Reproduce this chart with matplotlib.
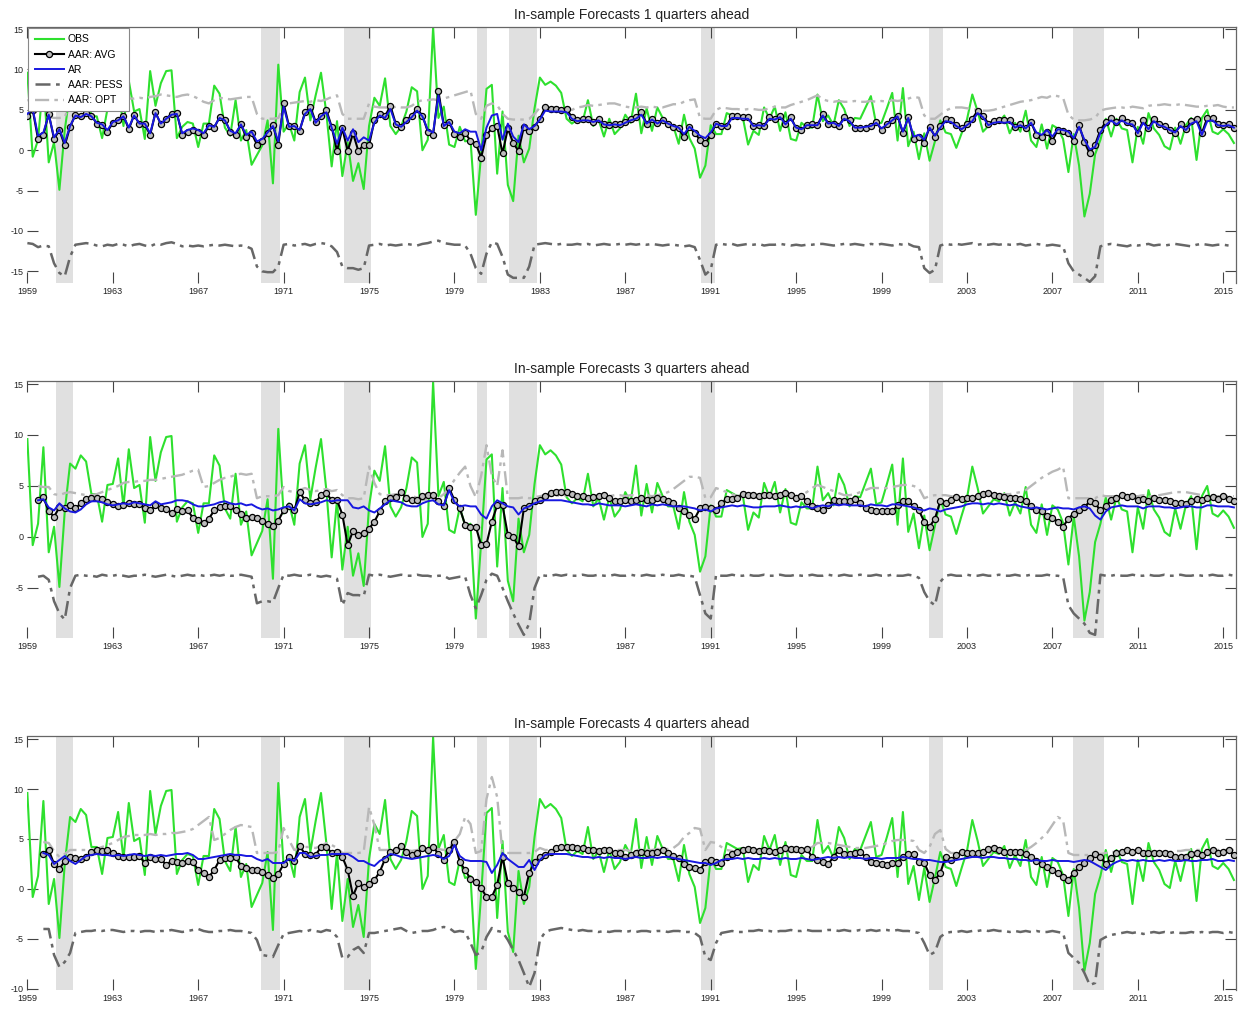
import numpy as np
import matplotlib
matplotlib.use("Agg")
import matplotlib.pyplot as plt

nan = np.nan

# quarterly points, first one at 1959.00, one row per year (4 quarters)
start_year = 1959
tick_years = [1959, 1963, 1967, 1971, 1975, 1979, 1983, 1987, 1991, 1995,
              1999, 2003, 2007, 2011, 2015]

# NBER recessions (decimal years) used for the grey bands
rec_start = [1960.33, 1969.94, 1973.82, 1980.04, 1981.57, 1990.55, 2001.24, 2007.96]
rec_end = [1961.16, 1970.84, 1975.10, 1980.52, 1982.86, 1991.19, 2001.87, 2009.42]

obs = [
    9.6, -0.8, 1.3, 8.8,   -1.5, 1.0, -4.9, 2.5,   7.2, 6.7, 8.0, 7.4,   4.2, 4.2, 1.5, 5.1,
    5.2, 7.7, 3.0, 8.6,    4.8, 5.1, 1.4, 9.8,     5.5, 8.3, 9.8, 9.9,   1.5, 2.9, 3.5, 3.3,
    0.4, 3.3, 3.3, 8.0,    7.0, 2.8, 1.8, 6.2,     1.2, 2.5, -1.8, -0.6, 0.6, 3.7, -4.1, 10.6,
    2.3, 3.3, 1.2, 7.2,    9.0, 3.7, 6.8, 9.6,     4.6, -2.0, 3.6, -3.2, 1.0, -3.8, -1.6, -4.8,
    3.0, 6.5, 5.5, 8.9,    3.0, 2.0, 2.9, 4.8,     7.8, 7.3, 0.0, 1.3,   15.2, 4.0, 5.4, 0.7,
    0.4, 2.9, 1.1, 1.3,    -8.0, -0.5, 7.6, 8.1,   -2.9, 4.8, -4.3, -6.3, 1.8, -1.5, 0.2, 5.2,
    9.0, 8.1, 8.5, 8.0,    7.1, 3.9, 3.3, 3.8,     3.5, 6.2, 3.0, 3.8,   1.7, 3.9, 2.0, 2.7,
    4.4, 3.4, 7.0, 2.1,    5.2, 2.4, 5.3, 4.0,     3.0, 3.0, 0.8, 4.4,   1.5, 0.2, -3.4, -1.9,
    3.1, 2.0, 2.0, 4.6,    4.3, 4.0, 4.1, 0.7,     2.4, 1.9, 5.3, 3.9,   5.4, 2.4, 4.7, 1.4,
    1.2, 3.4, 2.8, 2.8,    6.9, 3.6, 4.3, 3.1,     6.2, 5.1, 3.0, 4.0,   3.9, 5.3, 6.7, 3.2,
    3.4, 5.2, 7.1, 1.2,    7.7, 0.5, 2.3, -1.1,    2.1, -1.3, 1.1, 3.7,  2.2, 2.0, 0.3, 2.1,
    3.8, 6.9, 4.8, 2.3,    3.0, 3.7, 3.5, 4.3,     2.1, 3.4, 2.3, 4.9,   1.2, 0.4, 3.2, 0.2,
    3.1, 2.7, 1.4, -2.7,   2.0, -1.9, -8.2, -5.4,  -0.5, 1.3, 3.9, 1.7,  3.9, 2.7, 2.5, -1.5,
    2.9, 0.8, 4.6, 2.7,    1.9, 0.5, 0.1, 2.8,     0.8, 3.1, 4.0, -1.2,  4.0, 5.0, 2.3, 2.0,
    2.6, 2.0, 0.9,
]

# ---- 1 quarter ahead ----
avg_h1 = [
    4.3, 5.0, 1.4, 1.9,   4.5, 1.4, 2.5, 0.6,   2.9, 4.4, 4.2, 4.6,   4.3, 3.3, 3.1, 2.3,
    3.4, 3.7, 4.3, 2.6,   4.4, 3.2, 3.2, 1.9,   4.7, 3.2, 3.9, 4.5,   4.6, 1.9, 2.3, 2.5,
    2.3, 1.9, 3.0, 2.8,   4.1, 3.8, 2.3, 1.9,   3.2, 1.6, 2.1, 0.7,   1.1, 2.1, 3.1, 0.7,
    5.8, 3.0, 3.0, 2.4,   4.7, 5.4, 3.5, 4.3,   5.0, 2.9, -0.1, 2.7,  -0.1, 2.1, -0.1, 0.7,
    0.6, 3.7, 4.5, 4.2,   5.5, 3.3, 2.9, 3.7,   4.3, 5.1, 4.3, 2.3,   1.9, 7.3, 3.1, 3.5,
    2.0, 1.7, 2.1, 1.2,   0.8, -0.9, 1.9, 2.7,  3.0, -0.4, 2.7, 0.9,  -0.1, 2.9, 2.4, 2.9,
    3.9, 5.3, 5.1, 5.1,   5.0, 5.1, 4.1, 3.7,   3.9, 3.9, 3.5, 3.9,   3.2, 3.1, 3.2, 3.2,
    3.5, 3.9, 4.1, 4.7,   3.3, 3.9, 3.4, 3.8,   3.3, 2.9, 2.7, 1.6,   2.9, 2.1, 1.3, 0.9,
    1.9, 3.3, 3.0, 3.0,   4.3, 4.3, 4.1, 4.1,   3.0, 3.1, 3.0, 4.1,   3.9, 4.3, 3.3, 4.1,
    2.7, 2.5, 3.1, 3.2,   3.1, 4.5, 3.3, 3.3,   3.0, 4.1, 3.7, 2.7,   2.7, 2.8, 3.0, 3.5,
    2.5, 3.2, 3.8, 4.3,   2.1, 4.1, 1.4, 1.6,   0.9, 2.9, 1.7, 3.0,   3.9, 3.7, 3.1, 2.7,
    3.3, 3.9, 4.9, 4.3,   3.3, 3.6, 3.8, 3.7,   3.8, 2.9, 3.2, 2.7,   3.5, 1.9, 1.6, 2.3,
    1.2, 2.5, 2.4, 2.1,   1.2, 3.1, 1.0, -0.4,  0.7, 2.5, 3.5, 4.0,   3.5, 4.0, 3.5, 3.4,
    2.1, 3.7, 2.7, 3.9,   3.3, 3.0, 2.5, 2.1,   3.2, 2.6, 3.6, 3.9,   2.1, 4.0, 4.0, 3.2,
    3.1, 3.2, 2.7,
]
ar_h1 = [
    4.5, 5.1, 1.8, 2.2,   4.4, 1.6, 2.6, 0.9,   3.0, 4.3, 4.1, 4.5,   4.2, 3.4, 3.2, 2.5,
    3.5, 3.7, 4.2, 2.8,   4.3, 3.3, 3.3, 2.1,   4.6, 3.3, 3.9, 4.4,   4.5, 2.1, 2.5, 2.7,
    2.5, 2.1, 3.1, 2.9,   4.0, 3.7, 2.4, 2.1,   3.2, 1.9, 2.3, 1.1,   1.4, 2.2, 3.0, 1.1,
    5.4, 2.9, 3.0, 2.5,   4.5, 5.1, 3.4, 4.2,   4.7, 2.8, 0.8, 2.8,   1.2, 2.6, 1.0, 1.6,
    1.2, 3.4, 4.3, 4.0,   5.1, 3.2, 2.9, 3.5,   4.1, 4.9, 4.2, 2.5,   2.2, 6.8, 3.0, 3.5,
    2.3, 2.1, 2.6, 2.3,   2.3, 0.0, 2.8, 4.3,   4.5, 1.3, 3.3, 1.7,   1.0, 3.2, 2.6, 3.0,
    3.8, 4.9, 4.8, 4.8,   4.8, 4.7, 3.9, 3.6,   3.7, 3.7, 3.5, 3.7,   3.2, 3.1, 3.2, 3.1,
    3.4, 3.7, 3.9, 4.4,   3.3, 3.8, 3.3, 3.7,   3.3, 3.0, 2.8, 2.0,   2.9, 2.4, 1.8, 1.5,
    2.2, 3.3, 3.0, 3.0,   4.0, 4.0, 3.9, 3.9,   3.0, 3.1, 3.0, 3.9,   3.8, 4.1, 3.2, 3.9,
    2.8, 2.6, 3.1, 3.1,   3.1, 4.3, 3.3, 3.4,   3.0, 3.9, 3.6, 2.8,   2.8, 2.9, 3.0, 3.4,
    2.7, 3.2, 3.7, 4.2,   2.3, 4.0, 1.7, 1.9,   1.3, 2.8, 1.8, 2.8,   3.6, 3.5, 3.0, 2.6,
    3.1, 3.6, 4.6, 4.1,   3.1, 3.4, 3.5, 3.4,   3.5, 2.8, 3.1, 2.7,   3.4, 2.2, 1.9, 2.5,
    1.7, 2.6, 2.5, 2.3,   1.5, 2.9, 1.3, 0.1,   0.4, 2.2, 3.1, 3.7,   3.2, 3.7, 3.3, 3.2,
    2.1, 3.4, 2.6, 3.6,   3.1, 2.9, 2.5, 2.2,   3.0, 2.5, 3.3, 3.6,   1.9, 3.6, 3.7, 3.1,
    3.0, 3.1, 2.8,
]
pess_h1 = [
    -11.5, -11.6, -12.0, -11.8,  -11.9, -14.0, -15.2, -15.6,  -13.2, -11.7, -11.6, -11.5,
    -11.6, -11.8, -11.9, -11.7,  -11.8, -11.6, -11.7, -11.9,  -11.7, -11.6, -11.8, -11.9,
    -11.6, -11.7, -11.5, -11.4,  -11.6, -11.9, -11.8, -11.9,  -11.8, -11.9, -11.8, -11.7,
    -11.8, -11.7, -11.8, -11.9,  -11.8, -11.9, -12.2, -14.4,  -15.0, -15.1, -15.1, -14.4,
    -11.7, -11.6, -11.8, -11.7,  -11.6, -11.8, -11.6, -11.5,  -11.6, -11.9, -12.6, -14.4,
    -14.6, -14.6, -14.8, -14.6,  -11.8, -11.7, -11.6, -11.8,  -11.7, -11.8, -11.7, -11.6,
    -11.7, -11.8, -11.6, -11.5,  -11.3, -11.2, -11.5, -11.6,  -11.7, -11.7, -11.8, -12.8,
    -14.6, -15.3, -12.8, -11.4,  -11.6, -13.2, -15.4, -15.8,  -15.8, -15.8, -14.4, -11.7,
    -11.6, -11.5, -11.6, -11.7,  -11.6, -11.7, -11.7, -11.6,  -11.7, -11.6, -11.8, -11.7,
    -11.6, -11.7, -11.7, -11.6,  -11.7, -11.6, -11.7, -11.6,  -11.7, -11.6, -11.7, -11.8,
    -11.7, -11.7, -11.8, -11.9,  -11.8, -12.0, -13.6, -15.4,  -14.8, -11.7, -11.6, -11.7,
    -11.6, -11.8, -11.7, -11.6,  -11.7, -11.6, -11.8, -11.7,  -11.7, -11.6, -11.7, -11.8,
    -11.7, -11.8, -11.7, -11.7,  -11.6, -11.6, -11.7, -11.8,  -11.7, -11.6, -11.7, -11.6,
    -11.7, -11.8, -11.6, -11.7,  -11.6, -11.7, -11.8, -11.6,  -11.7, -11.6, -11.9, -12.0,
    -14.6, -15.2, -14.8, -11.8,  -11.6, -11.7, -11.6, -11.7,  -11.6, -11.5, -11.7, -11.6,
    -11.7, -11.6, -11.7, -11.6,  -11.7, -11.7, -11.6, -11.8,  -11.7, -11.6, -11.7, -11.8,
    -11.7, -11.8, -11.9, -14.0,  -15.0, -15.4, -15.8, -16.3,  -15.6, -11.9, -11.7, -11.6,
    -11.7, -11.8, -11.9, -11.7,  -11.8, -11.7, -11.6, -11.8,  -11.7, -11.8, -11.7, -11.6,
    -11.7, -11.8, -11.9, -11.7,  -11.6, -11.7, -11.8, -11.7,  -11.7, -11.8, -11.7,
]
opt_h1 = [
    6.2, 6.2, 6.1, 5.2,   4.1, 4.0, 4.0, 4.1,   5.8, 6.2, 6.3, 6.3,   6.3, 6.2, 6.3, 6.4,
    6.3, 6.4, 6.3, 6.4,   6.4, 6.5, 6.4, 6.6,   6.7, 6.9, 6.8, 6.7,   6.6, 6.8, 6.9, 6.7,
    6.4, 6.0, 5.8, 6.2,   6.5, 6.4, 6.3, 6.4,   6.5, 6.6, 6.6, 4.5,   3.9, 3.9, 3.9, 4.0,
    5.3, 5.8, 5.9, 6.0,   6.1, 6.0, 6.2, 6.1,   6.3, 6.6, 6.8, 4.5,   3.9, 3.9, 3.9, 3.9,
    5.8, 5.4, 5.3, 5.3,   5.2, 5.4, 5.3, 5.3,   5.5, 6.0, 6.2, 6.2,   6.3, 6.2, 6.4, 6.6,
    6.8, 7.0, 7.2, 7.4,   4.5, 3.9, 5.5, 5.8,   5.6, 4.5, 3.9, 3.8,   3.8, 3.8, 3.9, 4.5,
    5.3, 5.4, 5.3, 5.2,   5.1, 5.0, 5.0, 5.3,   5.4, 5.6, 5.5, 5.6,   5.7, 5.8, 5.8, 5.6,
    5.4, 5.3, 5.3, 5.4,   5.3, 5.4, 5.3, 5.3,   5.5, 5.7, 5.7, 6.0,   6.2, 6.3, 4.0, 3.9,
    3.9, 5.0, 5.3, 5.2,   5.1, 5.1, 5.0, 5.1,   5.1, 5.0, 5.0, 5.2,   5.4, 5.3, 5.3, 5.6,
    5.8, 6.0, 6.2, 6.5,   6.8, 6.3, 6.1, 6.0,   6.1, 6.0, 6.0, 6.1,   6.0, 6.0, 6.1, 6.0,
    6.1, 6.0, 6.2, 6.1,   6.2, 6.4, 6.6, 6.5,   4.3, 3.9, 3.9, 4.4,   4.9, 5.2, 5.3, 5.3,
    5.2, 5.1, 5.0, 4.9,   4.9, 5.0, 5.2, 5.4,   5.6, 5.8, 6.0, 6.1,   6.2, 6.4, 6.6, 6.5,
    6.8, 6.7, 6.5, 4.4,   3.8, 3.7, 3.7, 3.8,   4.0, 4.9, 5.1, 5.2,   5.3, 5.3, 5.2, 5.4,
    5.3, 5.2, 5.5, 5.6,   5.6, 5.7, 5.6, 5.6,   5.7, 5.6, 5.5, 5.4,   5.4, 5.5, 5.5, 5.6,
    5.4, 5.3, 5.3,
]

# ---- 3 quarters ahead ----
avg_h3 = [
    nan, nan, 3.6, 3.9,   2.5, 2.0, 2.9, 2.8,   3.1, 2.8, 3.3, 3.7,   3.8, 3.8, 3.7, 3.4,
    3.2, 3.0, 3.1, 3.3,   3.2, 3.2, 2.8, 2.6,   3.1, 2.8, 2.7, 2.4,   2.7, 2.5, 2.6, 1.9,
    1.7, 1.4, 1.8, 2.6,   2.9, 3.0, 3.0, 2.6,   2.3, 1.9, 2.0, 1.9,   1.6, 1.3, 1.1, 1.6,
    2.6, 3.0, 2.6, 4.4,   3.6, 3.3, 3.4, 4.1,   4.3, 3.6, 3.6, 2.2,   -0.8, 0.6, 0.2, 0.4,
    0.8, 1.5, 2.5, 3.5,   3.8, 3.9, 4.4, 3.8,   3.6, 3.6, 4.0, 4.1,   4.1, 3.5, 3.0, 4.8,
    3.6, 2.8, 1.2, 1.0,   1.0, -0.8, -0.7, 1.5, 3.1, 3.1, 0.2, 0.0,   -0.9, 2.8, 3.0, 3.5,
    3.6, 4.0, 4.3, 4.4,   4.4, 4.4, 4.2, 4.0,   4.0, 3.8, 3.9, 4.0,   4.1, 3.8, 3.5, 3.5,
    3.6, 3.5, 3.6, 3.8,   3.6, 3.6, 3.8, 3.7,   3.5, 3.3, 2.8, 2.5,   2.2, 1.8, 2.8, 2.9,
    2.8, 2.6, 3.3, 3.7,   3.7, 3.8, 4.2, 4.1,   4.1, 4.0, 4.1, 4.1,   4.0, 4.1, 4.3, 4.1,
    3.8, 4.0, 3.5, 3.0,   2.8, 2.6, 3.1, 3.6,   3.5, 3.5, 3.5, 3.7,   3.3, 2.8, 2.6, 2.5,
    2.5, 2.5, 2.5, 3.1,   3.5, 3.5, 3.0, 2.6,   1.5, 1.0, 1.8, 3.5,   3.3, 3.6, 3.9, 3.7,
    3.8, 3.8, 4.0, 4.2,   4.3, 4.1, 4.0, 3.9,   3.8, 3.8, 3.7, 3.5,   3.0, 2.6, 2.5, 2.1,
    1.9, 1.5, 1.0, 1.8,   2.3, 2.6, 2.9, 3.5,   3.3, 2.6, 3.0, 3.6,   3.8, 4.1, 3.9, 4.0,
    3.6, 3.7, 3.5, 3.8,   3.6, 3.6, 3.5, 3.3,   3.3, 3.2, 3.5, 3.7,   3.6, 3.8, 3.9, 3.7,
    4.0, 3.7, 3.5,
]
ar_h3 = [
    nan, nan, 3.6, 3.7,   2.9, 2.6, 3.3, 2.8,   2.5, 2.4, 2.7, 3.2,   3.5, 3.5, 3.4, 3.2,
    3.1, 3.2, 3.3, 3.2,   3.4, 3.3, 3.2, 3.1,   3.5, 3.2, 3.3, 3.4,   3.6, 3.6, 3.5, 3.2,
    3.0, 3.0, 3.1, 3.2,   3.4, 3.5, 3.3, 3.2,   3.3, 3.1, 3.2, 2.9,   2.7, 2.8, 2.6, 2.7,
    2.9, 3.0, 2.6, 3.7,   3.3, 3.2, 3.3, 3.4,   3.6, 3.5, 3.6, 3.6,   3.6, 2.9, 2.8, 3.0,
    2.6, 2.4, 2.8, 3.2,   3.6, 3.5, 3.4, 3.1,   3.0, 3.0, 3.3, 3.5,   3.6, 3.2, 3.1, 4.6,
    3.4, 3.0, 3.1, 3.0,   3.0, 2.2, 1.8, 3.0,   3.6, 3.3, 3.0, 2.9,   2.2, 2.8, 3.0, 3.3,
    3.5, 3.6, 3.6, 3.6,   3.6, 3.5, 3.4, 3.3,   3.2, 3.2, 3.1, 3.3,   3.2, 3.1, 3.1, 3.1,
    3.0, 3.1, 3.2, 3.1,   3.0, 3.2, 3.1, 3.2,   3.1, 3.0, 3.0, 3.0,   2.9, 2.8, 2.6, 2.7,
    2.5, 2.8, 2.9, 3.0,   3.1, 3.0, 3.1, 3.0,   2.9, 2.9, 3.0, 3.0,   3.0, 3.1, 3.0, 2.9,
    3.0, 2.9, 3.0, 2.8,   3.0, 3.1, 3.0, 3.2,   3.1, 3.2, 3.1, 3.1,   3.1, 3.0, 3.2, 3.1,
    3.1, 3.0, 3.2, 3.2,   3.1, 3.0, 2.9, 2.7,   2.6, 2.8, 2.7, 2.5,   2.7, 2.8, 2.9, 3.0,
    3.2, 3.3, 3.3, 3.2,   3.3, 3.2, 3.3, 3.2,   3.1, 3.2, 3.0, 2.9,   2.8, 2.9, 2.8, 2.7,
    2.8, 2.9, 2.8, 2.8,   2.7, 2.9, 3.0, 2.8,   2.1, 1.7, 2.5, 2.9,   3.0, 3.1, 3.0, 3.0,
    3.0, 2.8, 3.0, 3.0,   3.0, 2.9, 2.9, 2.8,   2.9, 3.0, 3.0, 2.9,   2.9, 3.1, 3.1, 3.0,
    3.0, 3.0, 2.9,
]
pess_h3 = [
    nan, nan, -3.9, -3.8,  -4.2, -6.3, -7.5, -8.1,  -5.0, -3.8, -3.7, -3.8,  -3.8, -3.9, -3.7, -3.8,
    -3.8, -3.7, -3.8, -3.9,  -3.8, -3.8, -3.7, -3.8,  -3.9, -3.8, -3.7, -3.8,  -3.9, -3.8, -3.7, -3.8,
    -3.7, -3.8, -3.8, -3.7,  -3.8, -3.7, -3.8, -3.8,  -3.7, -3.8, -3.9, -6.5,  -6.3, -6.3, -6.4, -5.0,
    -3.7, -3.8, -3.7, -3.8,  -3.8, -3.7, -3.8, -3.9,  -3.8, -3.9, -4.1, -6.7,  -5.5, -5.7, -5.7, -5.8,
    -3.7, -3.8, -3.7, -3.8,  -3.9, -3.8, -3.7, -3.8,  -3.8, -3.7, -3.8, -3.8,  -3.9, -3.8, -3.8, -4.1,
    -4.0, -3.9, -3.9, -5.7,  -7.0, -5.7, -4.2, -3.6,  -3.8, -5.0, -6.3, -7.5,  -8.6, -9.6, -8.5, -5.0,
    -3.7, -3.8, -3.8, -3.7,  -3.8, -3.7, -3.8, -3.8,  -3.7, -3.8, -3.8, -3.7,  -3.8, -3.8, -3.7, -3.8,
    -3.8, -3.7, -3.8, -3.8,  -3.7, -3.8, -3.8, -3.7,  -3.8, -3.8, -3.7, -3.8,  -3.8, -3.9, -5.7, -7.5,
    -8.0, -3.7, -3.8, -3.8,  -3.7, -3.8, -3.8, -3.7,  -3.8, -3.8, -3.7, -3.8,  -3.8, -3.7, -3.8, -3.8,
    -3.7, -3.8, -3.8, -3.7,  -3.8, -3.8, -3.7, -3.8,  -3.8, -3.7, -3.8, -3.8,  -3.7, -3.8, -3.8, -3.7,
    -3.8, -3.8, -3.7, -3.8,  -3.8, -3.7, -3.8, -4.0,  -5.4, -6.3, -6.7, -4.4,  -3.8, -3.7, -3.8, -3.8,
    -3.7, -3.8, -3.8, -3.7,  -3.8, -3.8, -3.7, -3.8,  -3.8, -3.7, -3.8, -3.8,  -3.7, -3.8, -3.8, -3.7,
    -3.8, -3.8, -3.9, -6.7,  -7.5, -8.0, -8.5, -9.4,  -9.6, -3.7, -3.8, -3.8,  -3.7, -3.8, -3.8, -3.7,
    -3.8, -3.8, -3.7, -3.8,  -3.8, -3.7, -3.8, -3.8,  -3.7, -3.8, -3.8, -3.7,  -3.8, -3.8, -3.7, -3.8,
    -3.8, -3.7, -3.8,
]
opt_h3 = [
    nan, nan, 5.0, 4.9,   4.9, 4.2, 4.1, 4.3,   4.4, 4.3, 4.2, 4.1,   4.1, 4.2, 4.4, 4.6,
    4.8, 5.0, 5.3, 5.4,   5.4, 5.5, 5.5, 5.6,   5.6, 5.7, 5.8, 5.9,   6.0, 6.1, 6.3, 6.5,
    6.6, 4.9, 5.0, 5.3,   5.6, 5.8, 5.9, 6.1,   6.2, 6.1, 6.2, 3.8,   4.0, 4.0, 4.0, 4.1,
    4.9, 4.5, 4.4, 4.6,   4.8, 4.6, 4.5, 4.6,   4.7, 4.5, 4.6, 4.1,   3.8, 3.8, 3.7, 3.8,
    6.9, 5.3, 4.2, 4.1,   4.1, 4.2, 4.1, 4.0,   4.1, 3.8, 3.6, 3.7,   3.6, 3.8, 4.2, 4.8,
    5.6, 6.3, 6.9, 5.0,   3.9, 6.0, 9.0, 6.0,   5.0, 8.5, 3.8, 3.8,   3.8, 3.9, 3.8, 3.9,
    4.0, 4.1, 4.0, 4.1,   4.0, 4.1, 4.0, 4.1,   4.1, 4.0, 4.1, 4.0,   4.1, 4.0, 4.1, 4.1,
    4.0, 4.1, 4.1, 4.0,   4.1, 4.0, 4.1, 4.2,   4.4, 4.7, 5.1, 5.5,   5.9, 5.9, 5.8, 3.8,
    3.9, 4.8, 4.6, 4.4,   4.2, 4.0, 4.1, 4.0,   4.0, 4.1, 4.0, 4.0,   4.1, 4.0, 4.0, 4.1,
    4.0, 4.1, 4.4, 4.8,   5.1, 4.9, 4.7, 4.5,   4.3, 4.1, 4.1, 4.2,   4.4, 4.6, 4.8, 4.8,
    4.8, 4.8, 4.9, 5.0,   5.1, 5.1, 5.0, 4.8,   3.8, 4.0, 4.1, 4.1,   4.1, 4.0, 3.9, 3.9,
    3.9, 3.8, 3.9, 4.0,   4.0, 4.1, 4.1, 4.2,   4.2, 4.3, 4.4, 4.6,   5.0, 5.4, 5.8, 6.1,
    6.4, 6.6, 6.9, 3.8,   3.8, 3.8, 3.8, 3.8,   3.8, 4.1, 4.0, 4.0,   4.0, 4.0, 4.1, 4.0,
    4.0, 4.1, 4.0, 4.0,   4.1, 4.2, 4.3, 4.4,   4.4, 4.4, 4.3, 4.2,   4.1, 4.0, 4.0, 4.0,
    4.0, 4.0, 4.0,
]

# ---- 4 quarters ahead ----
avg_h4 = [
    nan, nan, nan, 3.5,   3.9, 2.5, 2.0, 2.8,   3.2, 3.1, 3.0, 3.2,   3.7, 3.9, 3.8, 3.9,
    3.6, 3.3, 3.2, 3.2,   3.2, 3.3, 2.6, 3.2,   3.0, 3.0, 2.4, 2.8,   2.7, 2.6, 2.8, 2.7,
    1.9, 1.6, 1.2, 1.9,   2.9, 3.1, 3.1, 3.2,   2.3, 2.1, 1.9, 1.9,   1.7, 1.4, 1.1, 1.5,
    2.5, 3.2, 2.8, 4.3,   3.5, 3.4, 3.4, 4.2,   4.2, 3.6, 3.7, 3.2,   1.9, -0.7, 0.6, 0.2,
    0.5, 0.9, 1.7, 3.0,   3.7, 3.9, 4.3, 3.7,   3.4, 3.6, 4.1, 3.9,   4.2, 3.5, 2.9, 3.9,
    4.7, 2.7, 1.9, 1.0,   0.7, 0.1, -0.8, -0.8, 0.4, 3.2, 0.6, 0.1,   -0.3, -0.8, 1.6, 2.7,
    3.2, 3.4, 3.7, 4.1,   4.2, 4.2, 4.2, 4.1,   4.1, 3.9, 3.9, 3.8,   3.9, 3.9, 3.6, 3.6,
    3.2, 3.4, 3.6, 3.7,   3.6, 3.6, 3.7, 3.9,   3.6, 3.3, 3.1, 2.5,   2.2, 2.1, 1.9, 2.7,
    2.9, 2.7, 2.6, 3.2,   3.5, 3.7, 3.9, 4.0,   3.9, 3.8, 3.9, 3.8,   3.7, 3.9, 4.1, 4.0,
    4.0, 3.9, 4.0, 3.2,   2.9, 2.7, 2.5, 3.2,   3.9, 3.5, 3.5, 3.6,   3.7, 3.2, 2.7, 2.6,
    2.5, 2.4, 2.6, 2.6,   3.2, 3.5, 3.5, 2.7,   2.6, 1.4, 0.9, 1.6,   3.2, 2.9, 3.4, 3.7,
    3.6, 3.6, 3.6, 3.7,   4.0, 4.1, 3.9, 3.7,   3.7, 3.7, 3.7, 3.5,   3.2, 2.8, 2.5, 2.2,
    1.9, 1.6, 1.2, 0.9,   1.6, 2.2, 2.6, 3.1,   3.5, 3.2, 2.5, 3.1,   3.6, 3.7, 3.9, 3.7,
    3.9, 3.6, 3.6, 3.6,   3.6, 3.6, 3.5, 3.2,   3.2, 3.2, 3.5, 3.6,   3.4, 3.7, 3.9, 3.6,
    3.7, 3.9, 3.4,
]
ar_h4 = [
    nan, nan, nan, 3.6,   3.4, 2.5, 2.9, 3.3,   2.8, 2.5, 2.9, 3.3,   3.4, 3.5, 3.4, 3.4,
    3.3, 3.4, 3.3, 3.4,   3.5, 3.4, 3.3, 3.4,   3.3, 3.4, 3.3, 3.4,   3.5, 3.5, 3.6, 3.4,
    3.0, 3.0, 3.1, 3.2,   3.3, 3.4, 3.5, 3.4,   3.4, 3.3, 3.3, 3.0,   2.8, 3.0, 2.6, 2.6,
    2.6, 3.0, 2.8, 3.6,   3.6, 3.2, 3.3, 3.4,   3.4, 3.5, 3.5, 3.5,   3.5, 3.2, 2.8, 2.8,
    2.5, 2.3, 2.8, 3.1,   3.5, 3.4, 3.2, 3.1,   3.0, 3.1, 3.2, 3.3,   3.4, 3.3, 3.0, 3.3,
    4.4, 3.3, 2.9, 2.8,   2.8, 2.8, 2.7, 1.6,   2.4, 3.6, 3.0, 2.6,   2.2, 2.2, 2.9, 1.9,
    2.9, 3.4, 3.5, 3.5,   3.5, 3.5, 3.4, 3.3,   3.2, 3.2, 3.1, 3.2,   3.1, 3.2, 3.1, 3.1,
    3.0, 3.1, 3.2, 3.1,   3.1, 3.2, 3.1, 3.2,   3.2, 3.1, 3.0, 2.9,   2.8, 2.7, 2.6, 2.6,
    2.4, 2.6, 2.9, 3.0,   3.0, 3.1, 3.0, 3.1,   3.0, 3.0, 3.1, 3.0,   3.1, 3.0, 3.1, 3.0,
    3.0, 3.1, 3.0, 2.9,   3.0, 3.1, 3.2, 3.1,   3.2, 3.1, 3.2, 3.1,   3.1, 3.0, 3.1, 3.1,
    3.0, 3.1, 3.1, 3.1,   3.2, 3.1, 3.0, 3.0,   2.9, 2.9, 2.8, 2.7,   2.7, 2.8, 2.9, 3.0,
    3.1, 3.2, 3.2, 3.1,   3.2, 3.2, 3.1, 3.1,   3.0, 3.0, 2.9, 2.9,   2.8, 2.9, 2.8, 2.8,
    2.9, 2.8, 2.8, 2.8,   2.7, 2.8, 2.9, 2.8,   2.5, 2.2, 1.9, 2.4,   2.7, 2.9, 2.8, 2.9,
    2.8, 2.9, 2.8, 2.8,   2.9, 2.8, 2.9, 2.8,   2.8, 2.9, 2.8, 2.8,   2.9, 2.9, 3.0, 2.8,
    2.8, 2.9, 2.8,
]
pess_h4 = [
    nan, nan, nan, -4.0,  -4.0, -6.6, -7.8, -7.3,  -6.4, -4.4, -4.3, -4.2,  -4.2, -4.1, -4.2, -4.1,
    -4.1, -4.2, -4.3, -4.2,  -4.2, -4.3, -4.2, -4.2,  -4.3, -4.2, -4.2, -4.1,  -4.2, -4.3, -4.2, -4.1,
    -4.0, -4.2, -4.3, -4.3,  -4.2, -4.2, -4.1, -4.2,  -4.2, -4.3, -4.4, -5.1,  -6.6, -6.7, -6.8, -5.6,
    -4.5, -4.4, -4.3, -4.2,  -4.3, -4.1, -4.2, -4.3,  -4.1, -4.2, -4.8, -6.9,  -6.8, -6.1, -5.8, -6.4,
    -4.4, -4.4, -4.3, -4.2,  -4.1, -4.0, -3.9, -4.2,  -4.4, -4.3, -4.2, -4.2,  -4.1, -3.9, -3.8, -3.9,
    -4.3, -4.2, -4.3, -5.4,  -6.6, -6.3, -4.8, -3.9,  -4.2, -4.3, -5.1, -6.1,  -7.1, -8.4, -9.8, -8.4,
    -5.1, -4.3, -4.1, -4.0,  -3.9, -4.0, -4.1, -4.2,  -4.1, -4.2, -4.2, -4.3,  -4.2, -4.3, -4.2, -4.2,
    -4.3, -4.2, -4.3, -4.2,  -4.2, -4.3, -4.2, -4.2,  -4.3, -4.2, -4.2, -4.3,  -4.3, -4.4, -4.8, -6.8,
    -7.1, -5.4, -4.4, -4.3,  -4.2, -4.3, -4.3, -4.2,  -4.2, -4.1, -4.2, -4.2,  -4.3, -4.2, -4.2, -4.1,
    -4.2, -4.2, -4.1, -4.2,  -4.2, -4.2, -4.1, -4.1,  -4.2, -4.1, -4.2, -4.2,  -4.1, -4.2, -4.1, -4.2,
    -4.1, -4.1, -4.2, -4.1,  -4.2, -4.2, -4.3, -4.4,  -5.4, -6.6, -6.3, -4.8,  -4.4, -4.3, -4.3, -4.2,
    -4.3, -4.2, -4.2, -4.1,  -4.2, -4.1, -4.2, -4.2,  -4.3, -4.2, -4.3, -4.2,  -4.3, -4.2, -4.3, -4.3,
    -4.2, -4.3, -4.4, -6.4,  -6.9, -7.4, -8.4, -9.6,  -9.4, -5.1, -4.8, -4.6,  -4.5, -4.4, -4.3, -4.4,
    -4.3, -4.5, -4.4, -4.3,  -4.4, -4.3, -4.4, -4.3,  -4.4, -4.4, -4.3, -4.4,  -4.3, -4.4, -4.3, -4.3,
    -4.4, -4.3, -4.4,
]
opt_h4 = [
    nan, nan, nan, 4.7,   4.6, 3.8, 3.2, 3.5,   3.9, 3.9, 3.9, 3.9,   3.9, 4.0, 4.2, 4.4,
    4.6, 4.9, 5.2, 5.3,   5.4, 5.4, 5.4, 5.5,   5.4, 5.5, 5.5, 5.6,   5.6, 5.7, 5.8, 6.0,
    6.4, 6.8, 7.2, 4.9,   5.1, 5.5, 5.9, 6.2,   6.4, 6.3, 6.2, 3.6,   3.6, 3.6, 3.6, 3.7,
    6.1, 4.9, 3.9, 4.0,   4.2, 4.2, 4.1, 4.3,   4.6, 4.4, 4.1, 3.6,   3.6, 3.6, 3.6, 3.7,
    8.2, 6.4, 3.9, 3.9,   3.9, 3.9, 4.0, 3.9,   3.8, 3.9, 3.9, 3.9,   3.9, 4.0, 3.9, 4.2,
    4.8, 5.5, 7.2, 6.5,   3.6, 3.8, 9.0, 11.2,  9.2, 3.6, 3.6, 3.6,   3.6, 3.6, 3.6, 3.7,
    4.1, 3.9, 3.9, 3.9,   3.9, 3.9, 3.9, 4.0,   3.9, 3.9, 3.9, 3.9,   3.9, 3.9, 3.9, 3.9,
    3.9, 3.8, 3.9, 3.9,   3.9, 3.9, 4.0, 4.0,   4.0, 4.1, 4.5, 5.2,   5.6, 6.1, 6.0, 3.9,
    4.7, 4.6, 4.2, 3.9,   3.8, 3.7, 3.7, 3.7,   3.7, 3.7, 3.7, 3.7,   3.7, 3.7, 3.8, 3.7,
    3.7, 3.8, 4.0, 4.2,   4.6, 4.6, 4.6, 4.5,   4.4, 4.3, 4.2, 4.1,   4.1, 4.1, 4.2, 4.3,
    4.4, 4.6, 4.8, 4.9,   4.9, 4.9, 4.8, 3.9,   3.6, 4.2, 5.5, 5.9,   4.0, 3.6, 3.6, 3.6,
    3.6, 3.6, 3.6, 3.6,   3.6, 3.6, 3.7, 3.6,   3.6, 3.6, 3.7, 3.9,   4.2, 4.6, 5.1, 5.6,
    6.4, 7.2, 6.9, 3.6,   3.4, 3.4, 3.4, 3.4,   3.4, 3.5, 3.6, 3.7,   3.7, 3.7, 3.7, 3.7,
    3.7, 3.7, 3.8, 3.7,   3.7, 3.7, 3.7, 3.8,   3.8, 3.9, 3.9, 3.9,   3.9, 3.9, 3.9, 3.9,
    3.9, 3.9, 3.9,
]

horizons = [1, 3, 4]
avg_series = [avg_h1, avg_h3, avg_h4]
ar_series = [ar_h1, ar_h3, ar_h4]
pess_series = [pess_h1, pess_h3, pess_h4]
opt_series = [opt_h1, opt_h3, opt_h4]

# layout (figure fractions) and axis ranges per panel
panel_rects = [
    [0.022, 0.720, 0.9716, 0.2532],
    [0.022, 0.369, 0.9716, 0.2542],
    [0.022, 0.0208, 0.9716, 0.2512],
]
panel_ylims = [(-16.45, 15.25), (-9.9, 15.3), (-10.1, 15.3)]
panel_yticks = [[-15, -10, -5, 0, 5, 10, 15], [-5, 0, 5, 10, 15], [-10, -5, 0, 5, 10, 15]]

DASHDOT = (0, (6, 2.2, 1.5, 2.2))


def draw_panel(ax, h, avg, ar, pess, opt, ylim, yticks, legend=False):
    dates = start_year + np.arange(len(obs)) / 4.0
    for a, b in zip(rec_start, rec_end):
        ax.axvspan(a, b, color="#e0e0e0", lw=0, zorder=0)

    ax.plot(dates, obs, color="#2ee02e", lw=1.5, label="OBS", zorder=2)
    ax.plot(dates, avg, color="black", lw=1.5, marker="o", ms=4.4,
            mfc="#bdbdbd", mec="black", mew=0.9, label="AAR: AVG", zorder=4)
    ax.plot(dates, ar, color="#1818e0", lw=1.4, label="AR", zorder=5)
    ax.plot(dates, pess, color="#676767", lw=1.8, ls=DASHDOT, label="AAR: PESS", zorder=3)
    ax.plot(dates, opt, color="#b8b8b8", lw=1.7, ls=DASHDOT, label="AAR: OPT", zorder=3)

    ax.set_xlim(1959, 2015.6)
    ax.set_ylim(*ylim)
    ax.set_xticks(tick_years)
    ax.set_yticks(yticks)
    ax.tick_params(direction="in", top=True, right=True, length=8, width=0.8,
                   color="#444444", labelsize=6.5, pad=3, labelcolor="#222222")
    for side in ["left", "bottom"]:
        ax.spines[side].set_visible(False)
    for side in ["top", "right"]:
        ax.spines[side].set_color("#666666")
        ax.spines[side].set_linewidth(0.9)

    ax.set_title(f"In-sample Forecasts {h} quarters ahead", fontsize=10, pad=6,
                 color="#222222")

    if legend:
        leg = ax.legend(loc="upper left", fontsize=7.5, frameon=True, fancybox=False,
                        borderaxespad=0.1, handlelength=2.8, labelspacing=0.5,
                        borderpad=0.6, handletextpad=0.4, framealpha=1)
        leg.get_frame().set_edgecolor("#888888")
        leg.get_frame().set_linewidth(0.8)
        leg.set_zorder(10)


def main():
    plt.rcParams["font.family"] = ["Liberation Sans", "DejaVu Sans"]
    plt.rcParams["axes.unicode_minus"] = False
    fig = plt.figure(figsize=(12.44, 10.11), dpi=100)
    for i, h in enumerate(horizons):
        ax = fig.add_axes(panel_rects[i])
        draw_panel(ax, h, avg_series[i], ar_series[i], pess_series[i], opt_series[i],
                   panel_ylims[i], panel_yticks[i], legend=(i == 0))
    fig.savefig("out.png", dpi=100)


if __name__ == "__main__":
    main()
